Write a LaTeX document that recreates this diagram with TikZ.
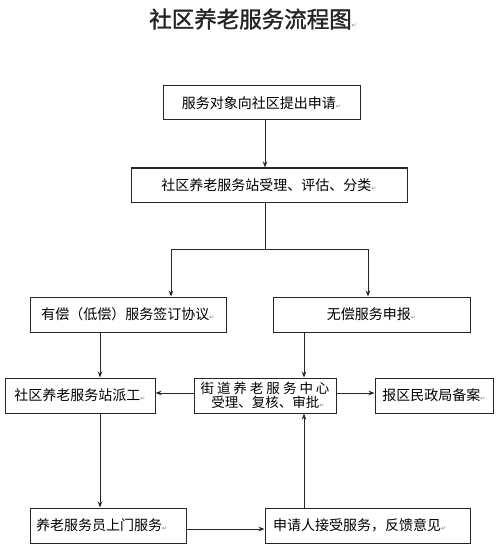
\documentclass[tikz,border=0pt]{standalone}
\usepackage{fontspec}
\newfontfamily\cjk{Noto Sans CJK SC}
\newfontfamily\cjktitle[FakeBold=1.5]{Noto Sans CJK SC}
\newfontfamily\dejavu{DejaVu Sans}
\usetikzlibrary{arrows.meta}
\newcommand{\retmark}{{\dejavu\fontsize{6}{6}\selectfont\color{gray}↵}}
\tikzset{
  box/.style={draw=black!85, line width=1pt, inner sep=0pt, minimum height=35pt,
    font=\cjk\fontsize{14}{16}\selectfont},
  arr/.style={draw=black!85, line width=1pt, -{Stealth[length=6pt,width=4.5pt]}},
  ln/.style={draw=black!85, line width=1pt}
}
\begin{document}
\begin{tikzpicture}[x=1pt,y=-1pt]
\useasboundingbox[fill=white] (0,0) rectangle (500,556);
\node[font=\cjktitle\fontsize{22.5}{24}\selectfont, text=black!85] (title) at (253,19) {社区养老服务流程图\retmark};

\node[box, minimum width=197pt, minimum height=34pt] (b1) at (261.5,103) {服务对象向社区提出申请\retmark};
\node[box, minimum width=276pt, minimum height=34pt] (b2) at (269,185) {社区养老服务站受理、评估、分类\retmark};
\node[box, minimum width=196pt] (b3a) at (128,314.5) {有偿（低偿）服务签订协议\retmark};
\node[box, minimum width=197pt] (b3b) at (371.5,314.5) {无偿服务申报\retmark};
\node[box, minimum width=150pt] (b4a) at (80,395.5) {社区养老服务站派工\retmark};
\node[box, minimum width=142pt, align=center, font=\cjk\fontsize{13.5}{14}\selectfont] (b4b) at (265,395.5)
  {街\hspace{3pt}道\hspace{3pt}养\hspace{3pt}老\hspace{3pt}服\hspace{3pt}务\hspace{3pt}中\hspace{3pt}心\\\hspace{6pt}受理、复核、审批\retmark};
\node[box, minimum width=118pt] (b4c) at (434,395.5) {报区民政局备案\retmark};
\node[box, minimum width=156pt, text width=144pt, align=left] (b5a) at (108,525.5) {养老服务员上门服务\retmark};
\node[box, minimum width=205pt, text width=189pt, align=left] (b5b) at (367.5,525.5) {申请人接受服务，反馈意见\retmark};

\coordinate (c1) at (265,0);
\coordinate (j) at (265,249);
\coordinate (jl) at (171,249);
\coordinate (jr) at (368,249);
\coordinate (c2) at (100,0);
\coordinate (c3) at (304,0);
\coordinate (c4) at (0,393);
\coordinate (c5) at (0,529);

\draw[arr] (c1 |- b1.south) -- (c1 |- b2.north);
\draw[ln] (c1 |- b2.south) -- (j);
\draw[ln] (jl) -- (jr);
\draw[arr] (jl) -- (jl |- b3a.north);
\draw[arr] (jr) -- (jr |- b3b.north);
\draw[arr] (c2 |- b3a.south) -- (c2 |- b4a.north);
\draw[arr] (c3 |- b3b.south) -- (c3 |- b4b.north);
\draw[arr] (c4 -| b4b.west) -- (c4 -| b4a.east);
\draw[arr] (c4 -| b4b.east) -- (c4 -| b4c.west);
\draw[arr] (c2 |- b4a.south) -- (c2 |- b5a.north);
\draw[arr] (c5 -| b5a.east) -- (c5 -| b5b.west);
\draw[arr] (c3 |- b5b.north) -- (c3 |- b4b.south);
\end{tikzpicture}
\end{document}
